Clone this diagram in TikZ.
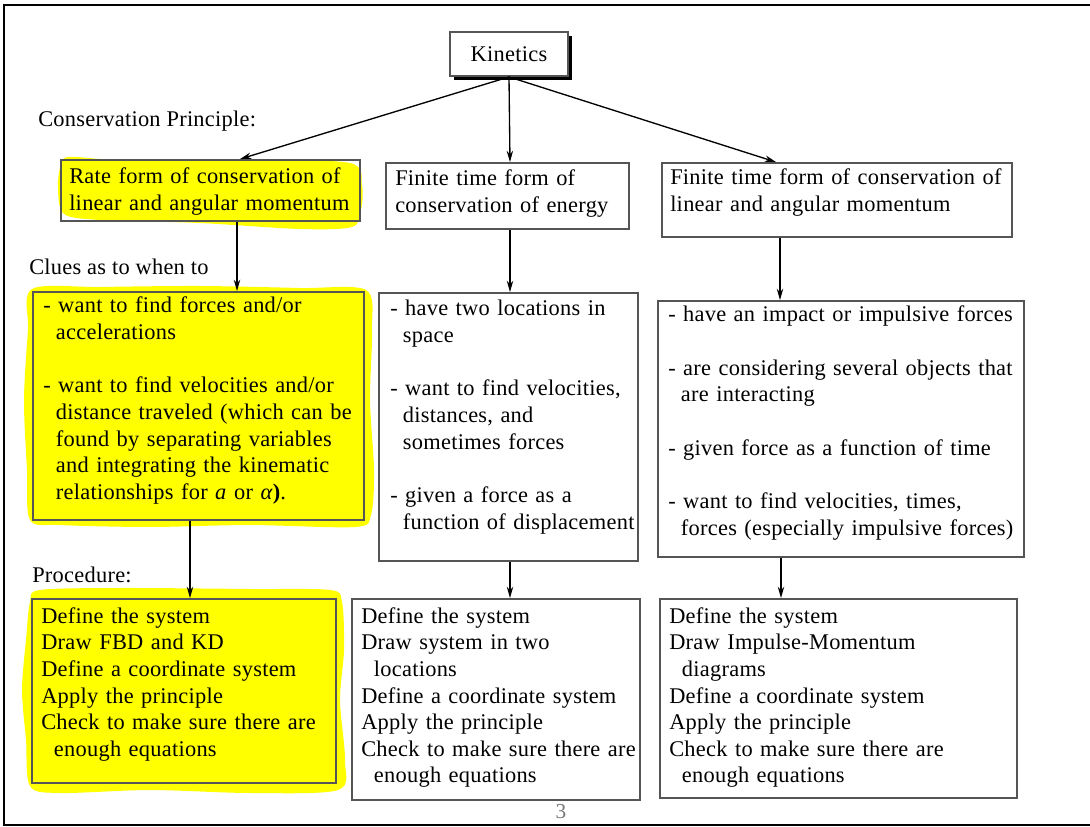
\documentclass[tikz,border=0pt]{standalone}
\usepackage{fontspec}
\setmainfont[LetterSpace=1.2]{Liberation Serif}
\usetikzlibrary{fit,shadows,arrows.meta}
\definecolor{hl}{RGB}{255,255,0}
\definecolor{boxc}{RGB}{85,85,85}
\definecolor{pgc}{RGB}{120,120,120}
\newcommand{\ind}{\hspace*{9.5pt}}
\begin{document}
\begin{tikzpicture}[x=0.75pt,y=-0.75pt,
  box/.style={draw=boxc,line width=1.4pt,inner sep=0pt},
  txt/.style={inner sep=0pt,anchor=base west,align=left,text width=400pt,font=\fontsize{16.8}{20}\selectfont},
  lbl/.style={inner sep=0pt,anchor=base west,font=\fontsize{16.8}{20}\selectfont},
  arr/.style={draw=black,line width=1pt,-{Stealth[length=8.5pt,width=4.8pt]}},
  blob/.style={fill=hl,draw=none}]
\useasboundingbox (0,0) rectangle (1090,827);
% frame
\draw[line width=1.5pt] (1090,5) -- (4,5) -- (4,825) -- (1090,825);

% yellow highlights
\fill[blob] plot[smooth cycle] coordinates {(60,168) (68,157) (120,160) (250,160) (350,163) (362,185) (361,210) (352,227) (300,229) (200,223) (100,220) (64,214) (58,190)};
\fill[blob] plot[smooth cycle] coordinates {(32,289) (100,287) (200,286) (300,288) (366,290) (372,330) (370,400) (374,470) (371,515) (355,527) (250,525) (150,527) (60,525) (30,520) (27,470) (24,400) (28,330)};
\fill[blob] plot[smooth cycle] coordinates {(40,590) (120,588) (250,589) (330,590) (342,602) (344,650) (340,700) (345,760) (338,790) (250,793) (150,790) (60,793) (30,786) (26,740) (22,690) (26,640) (30,602)};

% boxes
\node[box,fill=white,drop shadow={shadow xshift=3pt,shadow yshift=-3pt,fill=black,opacity=1},fit={(450,32)(568,76)}] (kin) {};
\node[lbl,anchor=center] (kint) at (kin.center) {Kinetics};
\node[box,fit={(61,160)(360,221)}] (a1) {};
\node[box,fit={(386,163)(629,229)}] (b1) {};
\node[box,fit={(662,163)(1012,237)}] (c1) {};
\node[box,fit={(33,292)(364,520)}] (a2) {};
\node[box,fit={(379,293)(638,561)}] (b2) {};
\node[box,fit={(658,301)(1024,557)}] (c2) {};
\node[box,fit={(32,599)(336,783)}] (a3) {};
\node[box,fit={(352,599)(640,800)}] (b3) {};
\node[box,fit={(660,599)(1017,798)}] (c3) {};

% labels
\node[lbl] (lcp) at (38,127) {Conservation Principle:};
\node[lbl] (lcl) at (29,275) {Clues as to when to};
\node[lbl] (lpr) at (32,582) {Procedure:};
\node[inner sep=0pt,anchor=base,text=pgc,font=\fontsize{16}{20}\selectfont] (pg) at (561,818) {3};

% texts
\node[txt] (a1t) at (69,184) {Rate form of conservation of\\linear and angular momentum};
\node[txt] (b1t) at (395,186) {Finite time form of\\conservation of energy};
\node[txt] (c1t) at (670,185) {Finite time form of conservation of\\linear and angular momentum};

\node[txt] (a2t) at (43,313) {- want to find forces and/or\\\ind accelerations\\[20pt]
- want to find velocities and/or\\\ind distance traveled (which can be\\\ind found by separating variables\\\ind and integrating the kinematic\\\ind relationships for \textit{a} or \textit{α}\textbf{)}.};
\node[txt] (b2t) at (390,316) {- have two locations in\\\ind space\\[20pt]
- want to find velocities,\\\ind distances, and\\\ind sometimes forces\\[20pt]
- given a force as a\\\ind function of displacement};
\node[txt] (c2t) at (668,322) {- have an impact or impulsive forces\\[20pt]
- are considering several objects that\\\ind are interacting\\[20pt]
- given force as a function of time\\[20pt]
- want to find velocities, times,\\\ind forces (especially impulsive forces)};

\node[txt] (a3t) at (41,623) {Define the system\\Draw FBD and KD\\Define a coordinate system\\Apply the principle\\Check to make sure there are\\\ind enough equations};
\node[txt] (b3t) at (361,623) {Define the system\\Draw system in two\\\ind locations\\Define a coordinate system\\Apply the principle\\Check to make sure there are\\\ind enough equations};
\node[txt] (c3t) at (669,623) {Define the system\\Draw Impulse-Momentum\\\ind diagrams\\Define a coordinate system\\Apply the principle\\Check to make sure there are\\\ind enough equations};

% connector x positions
\coordinate (xk1) at (240,0);
\coordinate (xk2) at (510,0);
\coordinate (xk3) at (776,0);
\coordinate (xa1) at (237,0);
\coordinate (xa2) at (190,0);
\coordinate (xb) at (510,0);
\coordinate (xc1) at (780,0);
\coordinate (xc2) at (781,0);

% connectors
\draw[arr] (kin.south) -- (a1.north -| xk1);
\draw[arr] (kin.south) -- (b1.north -| xk2);
\draw[arr] (kin.south) -- (c1.north -| xk3);
\draw[arr] (a1.south -| xa1) -- (a2.north -| xa1);
\draw[arr] (b1.south -| xb) -- (b2.north -| xb);
\draw[arr] (c1.south -| xc1) -- (c2.north -| xc1);
\draw[arr] (a2.south -| xa2) -- (a3.north -| xa2);
\draw[arr] (b2.south -| xb) -- (b3.north -| xb);
\draw[arr] (c2.south -| xc2) -- (c3.north -| xc2);
\end{tikzpicture}
\end{document}
